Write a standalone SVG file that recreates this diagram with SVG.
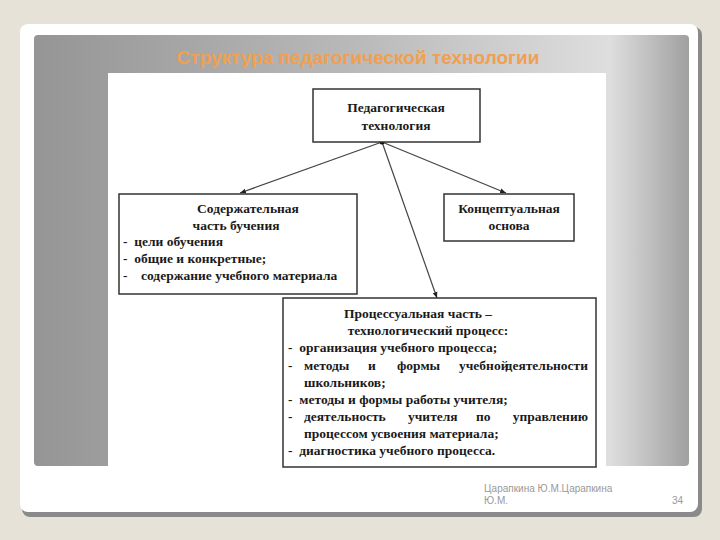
<svg xmlns="http://www.w3.org/2000/svg" width="720" height="540" viewBox="0 0 720 540">
<defs>
<linearGradient id="pg" x1="0" y1="0" x2="1" y2="0"><stop offset="0" stop-color="#959595"/><stop offset="0.5" stop-color="#bababa"/><stop offset="0.88" stop-color="#dedede"/><stop offset="1" stop-color="#a0a0a0"/></linearGradient>
<marker id="ah" viewBox="0 0 10 10" refX="10" refY="5" markerWidth="5" markerHeight="5" orient="auto"><path d="M0,1 L10,5 L0,9 z" fill="#222"/></marker>
<style>
.b{fill:#fff;stroke:#333;stroke-width:1.5}
.t{font-family:"Liberation Serif",serif;font-size:13.5px;fill:#1a1a1a;font-weight:bold;white-space:pre}
.c{stroke:#444;stroke-width:1.2;fill:none;marker-end:url(#ah)}
</style>
</defs>
<rect width="720" height="540" fill="#e6e2d8"/>
<rect x="22" y="27" width="680" height="490" rx="8" fill="#8a8a8a"/>
<rect x="20" y="24" width="678" height="488" rx="8" fill="#fff"/>
<rect x="34" y="35" width="655" height="431" rx="4" fill="url(#pg)"/>
<text x="358" y="64" text-anchor="middle" font-family="Liberation Sans,sans-serif" font-size="19" font-weight="bold" fill="#f0a050">Структура педагогической технологии</text>
<rect x="108" y="73" width="498" height="396" fill="#fff"/>
<g id="connectors">
<line class="c" x1="382" y1="142" x2="240" y2="193"/>
<line class="c" x1="382" y1="142" x2="506" y2="193"/>
<line class="c" x1="382" y1="142" x2="437" y2="298"/>
<circle cx="382" cy="142" r="2.5" fill="#111"/>
</g>
<g id="n1"><rect class="b" x="313" y="89" width="167" height="53"/>
<text class="t" x="396" y="112" text-anchor="middle">Педагогическая</text>
<text class="t" x="396" y="130" text-anchor="middle">технология</text></g>
<g id="n2"><rect class="b" x="119" y="194" width="238" height="100"/>
<text class="t" x="248" y="213" text-anchor="middle">Содержательная</text>
<text class="t" x="236" y="230" text-anchor="middle">часть бучения</text>
<text class="t" x="123" y="246">-  цели обучения</text>
<text class="t" x="123" y="263">-  общие и конкретные;</text>
<text class="t" x="123" y="280">-    содержание учебного материала</text></g>
<g id="n3"><rect class="b" x="444" y="194" width="130" height="47"/>
<text class="t" x="509" y="213" text-anchor="middle">Концептуальная</text>
<text class="t" x="509" y="230" text-anchor="middle">основа</text></g>
<g id="n4"><rect class="b" x="283" y="298" width="313" height="169"/>
<text class="t" x="418" y="318" text-anchor="middle">Процессуальная часть –</text>
<text class="t" x="428" y="335" text-anchor="middle">технологический процесс:</text>
<text class="t" x="288" y="352">-  организация учебного процесса;</text>
<text class="t" y="370"><tspan x="288">-</tspan><tspan x="304">методы</tspan><tspan x="368">и</tspan><tspan x="397">формы</tspan><tspan x="459">учебной</tspan><tspan x="588" text-anchor="end">деятельности</tspan></text>
<text class="t" x="304" y="387">школьников;</text>
<text class="t" x="288" y="404">-  методы и формы работы учителя;</text>
<text class="t" y="421"><tspan x="288">-</tspan><tspan x="304">деятельность</tspan><tspan x="408">учителя</tspan><tspan x="476">по</tspan><tspan x="588" text-anchor="end">управлению</tspan></text>
<text class="t" x="304" y="438">процессом усвоения материала;</text>
<text class="t" x="288" y="455">-  диагностика учебного процесса.</text></g>
<text x="484" y="492" font-family="Liberation Sans,sans-serif" font-size="10" fill="#999">Царапкина Ю.М.Царапкина</text>
<text x="484" y="504" font-family="Liberation Sans,sans-serif" font-size="10" fill="#999">Ю.М.</text>
<text x="683" y="504" text-anchor="end" font-family="Liberation Sans,sans-serif" font-size="10" fill="#999">34</text>
</svg>
